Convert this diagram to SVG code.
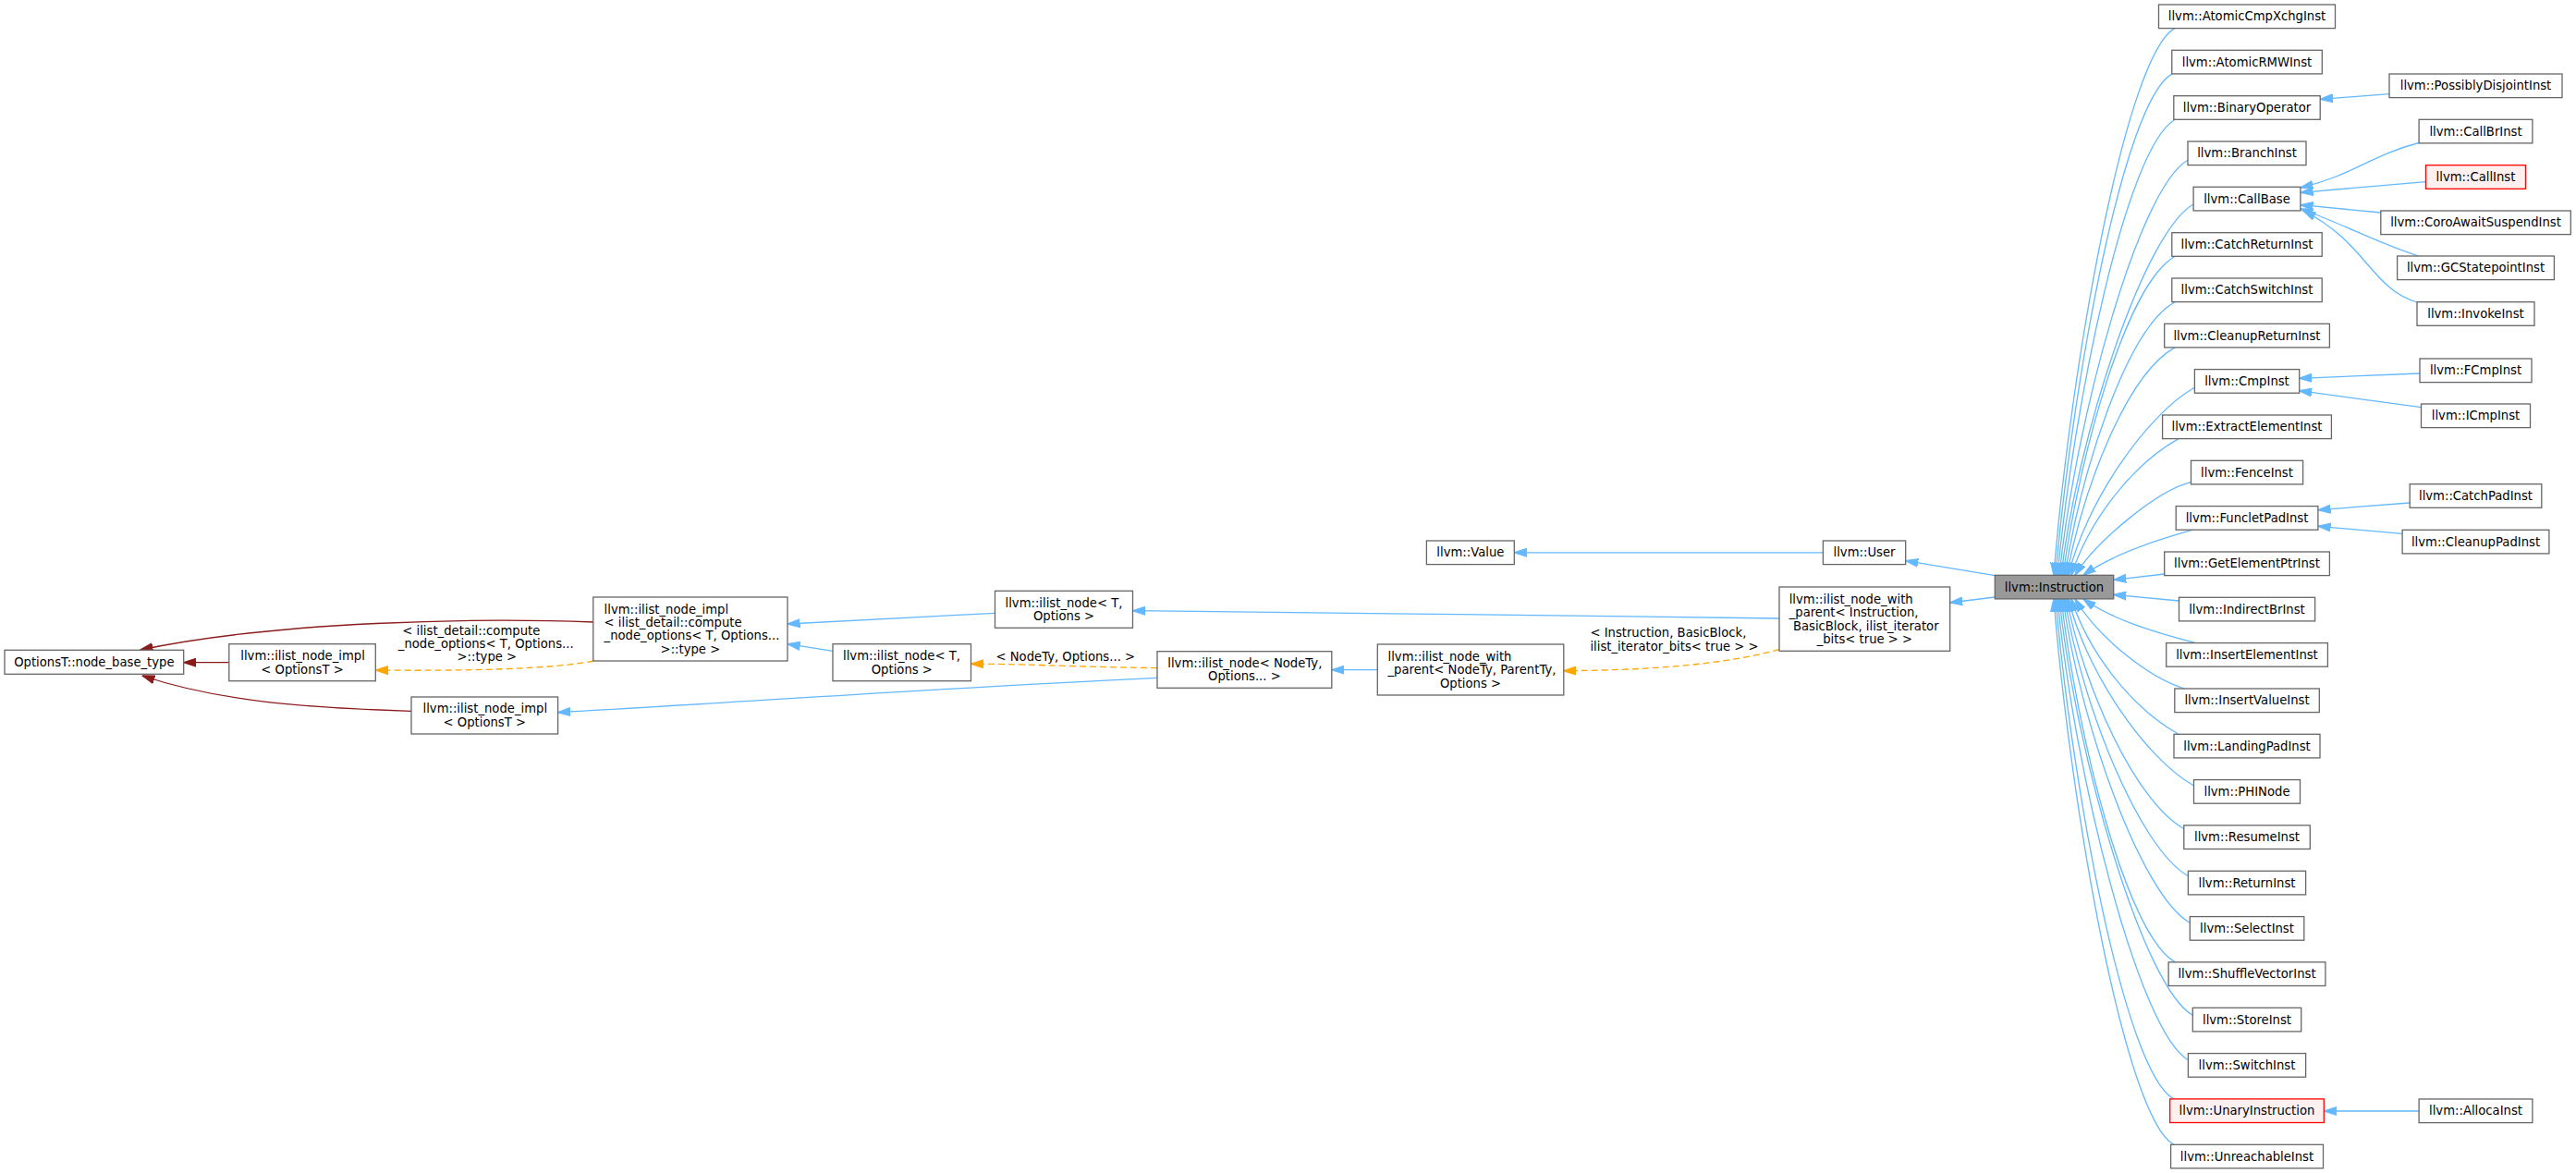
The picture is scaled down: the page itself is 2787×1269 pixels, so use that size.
<svg xmlns="http://www.w3.org/2000/svg" width="2787" height="1269" viewBox="0 0 2787 1269">
<style>
.nd rect{fill:#fff;stroke:#666;stroke-width:1.3}
.nd.hl rect{fill:#999}
.nd.red rect{fill:#fff0f0;stroke:#f00}
text{font-family:"DejaVu Sans","Liberation Sans",sans-serif;font-size:13.2px;fill:#000}
.m{text-anchor:middle}
.e{fill:none;stroke-width:1.3}
.b{stroke:#63b8ff;marker-end:url(#ab)}
.r{stroke:#8b1a1a;marker-end:url(#ar)}
.o{stroke:#ffa500;stroke-dasharray:7,4;marker-end:url(#ao)}
</style>
<defs>
<marker id="ab" markerUnits="userSpaceOnUse" viewBox="0 0 14 10" markerWidth="14" markerHeight="10" refX="13.5" refY="5" orient="auto"><path d="M0,0.5 L14,5 L0,9.5 Z" fill="#63b8ff" stroke="#63b8ff" stroke-width="1"/></marker>
<marker id="ar" markerUnits="userSpaceOnUse" viewBox="0 0 14 10" markerWidth="14" markerHeight="10" refX="13.5" refY="5" orient="auto"><path d="M0,0.5 L14,5 L0,9.5 Z" fill="#8b1a1a" stroke="#8b1a1a" stroke-width="1"/></marker>
<marker id="ao" markerUnits="userSpaceOnUse" viewBox="0 0 14 10" markerWidth="14" markerHeight="10" refX="13.5" refY="5" orient="auto"><path d="M0,0.5 L14,5 L0,9.5 Z" fill="#ffa500" stroke="#ffa500" stroke-width="1"/></marker>
</defs>
<rect width="2787" height="1269" fill="#fff"/>
<g id="edges">
<path class="e r" d="M642,673 C520,668 300,672 152,703"/>
<path class="e r" d="M247.8,716.7 L198.7,716.7"/>
<path class="e r" d="M445,769.3 C340,766 240,760 154,731"/>
<path class="e b" d="M1076.5,663.3 L852,675"/>
<path class="e b" d="M901,704.3 L852,696.7"/>
<path class="e b" d="M1252,733.3 C1000,745 800,760 603.6,770.7"/>
<path class="e o" d="M1252,722.7 C1150,721 1100,718 1050.5,718.3"/>
<path class="e o" d="M642,715 C600,724 500,726 406.3,725"/>
<path class="e b" d="M1925,669 C1700,667 1450,662 1225.5,660.7"/>
<path class="e b" d="M1490.3,724.7 L1440.8,724.7"/>
<path class="e o" d="M1925,702.7 C1860,720 1780,725 1691.8,725.7"/>
<path class="e b" d="M1972.4,597.8 L1638.3,597.8"/>
<path class="e b" d="M2158.3,622.7 L2061.7,606.7"/>
<path class="e b" d="M2158.3,646 L2109.7,652"/>
<path class="e b" d="M2352.7,30.6 C2299.7,60.6 2240,397.5 2222,622.3"/>
<path class="e b" d="M2350,79.9 C2297,109.9 2242,416.2 2224,622.3"/>
<path class="e b" d="M2353.3,129.3 C2300.3,159.3 2244,435 2226,622.3"/>
<path class="e b" d="M2367,173.3 C2314,203.3 2246,451.7 2228,622.3"/>
<path class="e b" d="M2373.1,221 C2320.1,251 2248,469.8 2230,622.3"/>
<path class="e b" d="M2353.3,277.3 C2300.3,307.3 2250,491.2 2232,622.3"/>
<path class="e b" d="M2353,326.6 C2300,356.6 2252,509.9 2234,622.3"/>
<path class="e b" d="M2353,375.9 C2300,405.9 2254,528.7 2236,622.3"/>
<path class="e b" d="M2374.3,419.3 C2321.3,449.3 2256,545.2 2238,622.3"/>
<path class="e b" d="M2357,474.6 C2304,504.6 2259,566.2 2241,622.3"/>
<path class="e b" d="M2370.5,521.7 C2335,530 2268,585 2245,622.3"/>
<path class="e b" d="M2372.6,573.2 C2330,585 2285,600 2254,622.3"/>
<path class="e b" d="M2341.7,621 L2286.7,627.3"/>
<path class="e b" d="M2357.5,650 L2286.7,643.3"/>
<path class="e b" d="M2375.5,695.6 C2330,684 2285,670 2254,648"/>
<path class="e b" d="M2363.3,745 C2325,733 2270,690 2245,648"/>
<path class="e b" d="M2357,794.3 C2304,764.3 2259,703.7 2241,648"/>
<path class="e b" d="M2373.5,850 C2320.5,820 2256,724.8 2238,648"/>
<path class="e b" d="M2362.8,896.7 C2309.8,866.7 2254,742.5 2236,648"/>
<path class="e b" d="M2367.4,947.7 C2314.4,917.7 2252,761.9 2234,648"/>
<path class="e b" d="M2369.3,998.3 C2316.3,968.3 2250,781.1 2232,648"/>
<path class="e b" d="M2353.3,1040.9 C2300.3,1010.9 2248,797.6 2230,648"/>
<path class="e b" d="M2372.3,1098.3 C2319.3,1068.3 2246,819.1 2228,648"/>
<path class="e b" d="M2367.4,1146.7 C2314.4,1116.7 2244,837.5 2226,648"/>
<path class="e b" d="M2351.7,1188.9 C2298.7,1158.9 2242,853.7 2224,648"/>
<path class="e b" d="M2351.7,1238.3 C2298.7,1208.3 2240,872.3 2222,648"/>
<path class="e b" d="M2585,101.7 L2510.4,107.3"/>
<path class="e b" d="M2617,154.5 C2565,168 2545,190 2489,203"/>
<path class="e b" d="M2624.5,196.7 L2489,208.3"/>
<path class="e b" d="M2575.8,230 L2489,221.7"/>
<path class="e b" d="M2616.7,277 C2570,262 2530,240 2489,226"/>
<path class="e b" d="M2615,327 C2565,312 2560,262 2492,228"/>
<path class="e b" d="M2618,404 L2487.6,409.3"/>
<path class="e b" d="M2619.5,440.7 L2487.6,422.7"/>
<path class="e b" d="M2607.2,544 L2508,551.7"/>
<path class="e b" d="M2599.1,577.3 L2508,569.3"/>
<path class="e b" d="M2617.1,1202 L2514.4,1202"/>
</g>
<g id="lbl-compute"><text x="435.3" y="686.5">&lt; ilist_detail::compute</text><text x="430.8" y="701">_node_options&lt; T, Options...</text><text class="m" x="526.8" y="715">&gt;::type &gt;</text></g>
<g id="lbl-nodety"><text class="m" x="1152.8" y="715">&lt; NodeTy, Options... &gt;</text></g>
<g id="lbl-instr"><text x="1720.4" y="689">&lt; Instruction, BasicBlock,</text><text x="1720.4" y="703.5">ilist_iterator_bits&lt; true &gt; &gt;</text></g>
<g id="OptionsT_node_base_type" class="nd"><rect x="5" y="703.3" width="193.7" height="26"/><text class="m" x="101.9" y="720.9">OptionsT::node_base_type</text></g>
<g id="ilist_node_impl_OptionsT_1" class="nd"><rect x="247.8" y="696.7" width="158.5" height="40"/><text x="260.3" y="714.1">llvm::ilist_node_impl</text><text class="m" x="327" y="728.5">&lt; OptionsT &gt;</text></g>
<g id="ilist_node_impl_OptionsT_2" class="nd"><rect x="445" y="754" width="158.6" height="40"/><text x="457.5" y="771.4">llvm::ilist_node_impl</text><text class="m" x="524.3" y="785.8">&lt; OptionsT &gt;</text></g>
<g id="ilist_node_impl_compute" class="nd"><rect x="641.8" y="646" width="210.2" height="69"/><text x="653.6" y="663.5">llvm::ilist_node_impl</text><text x="653.6" y="677.9">&lt; ilist_detail::compute</text><text x="653.6" y="692.3">_node_options&lt; T, Options...</text><text class="m" x="746.9" y="706.7">&gt;::type &gt;</text></g>
<g id="ilist_node_T_1" class="nd"><rect x="1076.5" y="639.3" width="149" height="40"/><text x="1087.5" y="656.7">llvm::ilist_node&lt; T,</text><text class="m" x="1151" y="671.1">Options &gt;</text></g>
<g id="ilist_node_T_2" class="nd"><rect x="901" y="696.7" width="149.5" height="40"/><text x="912" y="714.1">llvm::ilist_node&lt; T,</text><text class="m" x="975.8" y="728.5">Options &gt;</text></g>
<g id="ilist_node_NodeTy" class="nd"><rect x="1252" y="704.7" width="188.8" height="39.6"/><text x="1263.3" y="721.9">llvm::ilist_node&lt; NodeTy,</text><text class="m" x="1346.4" y="736.3">Options... &gt;</text></g>
<g id="ilist_node_with_parent_NodeTy" class="nd"><rect x="1490.3" y="697" width="201.5" height="55"/><text x="1501.5" y="714.7">llvm::ilist_node_with</text><text x="1501.5" y="729.1">_parent&lt; NodeTy, ParentTy,</text><text class="m" x="1591" y="743.5">Options &gt;</text></g>
<g id="Value" class="nd"><rect x="1543.4" y="585" width="94.9" height="25.6"/><text class="m" x="1590.9" y="602.4">llvm::Value</text></g>
<g id="User" class="nd"><rect x="1972.4" y="585" width="89.3" height="25.6"/><text class="m" x="2017" y="602.4">llvm::User</text></g>
<g id="ilist_node_with_parent_Instruction" class="nd"><rect x="1925" y="635" width="184.7" height="69.3"/><text x="1935.7" y="652.7">llvm::ilist_node_with</text><text x="1935.7" y="667.1">_parent&lt; Instruction,</text><text x="1939.9" y="681.5">BasicBlock, ilist_iterator</text><text class="m" x="2017.4" y="695.9">_bits&lt; true &gt; &gt;</text></g>
<g id="Instruction" class="nd hl"><rect x="2158.3" y="622.3" width="128.4" height="25.6"/><text class="m" x="2222.5" y="639.7">llvm::Instruction</text></g>
<g id="AtomicCmpXchgInst" class="nd"><rect x="2335.5" y="5" width="191" height="25.6"/><text class="m" x="2431" y="22.4">llvm::AtomicCmpXchgInst</text></g>
<g id="AtomicRMWInst" class="nd"><rect x="2349.8" y="54.3" width="162.5" height="25.6"/><text class="m" x="2431" y="71.7">llvm::AtomicRMWInst</text></g>
<g id="BinaryOperator" class="nd"><rect x="2351.8" y="103.7" width="158.4" height="25.6"/><text class="m" x="2431" y="121.1">llvm::BinaryOperator</text></g>
<g id="BranchInst" class="nd"><rect x="2367" y="153" width="128" height="25.6"/><text class="m" x="2431" y="170.4">llvm::BranchInst</text></g>
<g id="CallBase" class="nd"><rect x="2373.1" y="202.3" width="115.8" height="25.6"/><text class="m" x="2431" y="219.7">llvm::CallBase</text></g>
<g id="CatchReturnInst" class="nd"><rect x="2349.8" y="251.7" width="162.4" height="25.6"/><text class="m" x="2431" y="269.1">llvm::CatchReturnInst</text></g>
<g id="CatchSwitchInst" class="nd"><rect x="2349.8" y="301" width="162.4" height="25.6"/><text class="m" x="2431" y="318.4">llvm::CatchSwitchInst</text></g>
<g id="CleanupReturnInst" class="nd"><rect x="2341.7" y="350.3" width="178.7" height="25.6"/><text class="m" x="2431" y="367.7">llvm::CleanupReturnInst</text></g>
<g id="CmpInst" class="nd"><rect x="2374.4" y="399.6" width="113.3" height="25.6"/><text class="m" x="2431" y="417">llvm::CmpInst</text></g>
<g id="ExtractElementInst" class="nd"><rect x="2339.6" y="449" width="182.8" height="25.6"/><text class="m" x="2431" y="466.4">llvm::ExtractElementInst</text></g>
<g id="FenceInst" class="nd"><rect x="2370.5" y="498.3" width="121.1" height="25.6"/><text class="m" x="2431" y="515.7">llvm::FenceInst</text></g>
<g id="FuncletPadInst" class="nd"><rect x="2354.2" y="547.6" width="153.7" height="25.6"/><text class="m" x="2431" y="565">llvm::FuncletPadInst</text></g>
<g id="GetElementPtrInst" class="nd"><rect x="2341.7" y="597" width="178.7" height="25.6"/><text class="m" x="2431" y="614.4">llvm::GetElementPtrInst</text></g>
<g id="IndirectBrInst" class="nd"><rect x="2357.5" y="646.3" width="147.1" height="25.6"/><text class="m" x="2431" y="663.7">llvm::IndirectBrInst</text></g>
<g id="InsertElementInst" class="nd"><rect x="2343.7" y="695.6" width="174.7" height="25.6"/><text class="m" x="2431" y="713">llvm::InsertElementInst</text></g>
<g id="InsertValueInst" class="nd"><rect x="2352.8" y="745" width="156.5" height="25.6"/><text class="m" x="2431" y="762.4">llvm::InsertValueInst</text></g>
<g id="LandingPadInst" class="nd"><rect x="2352" y="794.3" width="158" height="25.6"/><text class="m" x="2431" y="811.7">llvm::LandingPadInst</text></g>
<g id="PHINode" class="nd"><rect x="2373.5" y="843.6" width="115" height="25.6"/><text class="m" x="2431" y="861">llvm::PHINode</text></g>
<g id="ResumeInst" class="nd"><rect x="2362.8" y="892.9" width="136.5" height="25.6"/><text class="m" x="2431" y="910.3">llvm::ResumeInst</text></g>
<g id="ReturnInst" class="nd"><rect x="2367.4" y="942.3" width="127.2" height="25.6"/><text class="m" x="2431" y="959.7">llvm::ReturnInst</text></g>
<g id="SelectInst" class="nd"><rect x="2369.3" y="991.6" width="123.5" height="25.6"/><text class="m" x="2431" y="1009">llvm::SelectInst</text></g>
<g id="ShuffleVectorInst" class="nd"><rect x="2346.1" y="1040.9" width="169.8" height="25.6"/><text class="m" x="2431" y="1058.3">llvm::ShuffleVectorInst</text></g>
<g id="StoreInst" class="nd"><rect x="2372.3" y="1090.3" width="117.4" height="25.6"/><text class="m" x="2431" y="1107.7">llvm::StoreInst</text></g>
<g id="SwitchInst" class="nd"><rect x="2367.4" y="1139.6" width="127.2" height="25.6"/><text class="m" x="2431" y="1157">llvm::SwitchInst</text></g>
<g id="UnaryInstruction" class="nd red"><rect x="2347.7" y="1188.9" width="166.6" height="25.6"/><text class="m" x="2431" y="1206.3">llvm::UnaryInstruction</text></g>
<g id="UnreachableInst" class="nd"><rect x="2348.6" y="1238.3" width="164.9" height="25.6"/><text class="m" x="2431" y="1255.7">llvm::UnreachableInst</text></g>
<g id="PossiblyDisjointInst" class="nd"><rect x="2585" y="80" width="187" height="25.6"/><text class="m" x="2678.5" y="97.4">llvm::PossiblyDisjointInst</text></g>
<g id="CallBrInst" class="nd"><rect x="2617.1" y="129.3" width="122.8" height="25.6"/><text class="m" x="2678.5" y="146.7">llvm::CallBrInst</text></g>
<g id="CallInst" class="nd red"><rect x="2624.5" y="178.7" width="108" height="25.6"/><text class="m" x="2678.5" y="196.1">llvm::CallInst</text></g>
<g id="CoroAwaitSuspendInst" class="nd"><rect x="2575.8" y="228" width="205.5" height="25.6"/><text class="m" x="2678.5" y="245.4">llvm::CoroAwaitSuspendInst</text></g>
<g id="GCStatepointInst" class="nd"><rect x="2593.6" y="277" width="169.8" height="25.6"/><text class="m" x="2678.5" y="294.4">llvm::GCStatepointInst</text></g>
<g id="InvokeInst" class="nd"><rect x="2615" y="326.7" width="127" height="25.6"/><text class="m" x="2678.5" y="344.1">llvm::InvokeInst</text></g>
<g id="FCmpInst" class="nd"><rect x="2618" y="388" width="121" height="25.6"/><text class="m" x="2678.5" y="405.4">llvm::FCmpInst</text></g>
<g id="ICmpInst" class="nd"><rect x="2619.5" y="437" width="118" height="25.6"/><text class="m" x="2678.5" y="454.4">llvm::ICmpInst</text></g>
<g id="CatchPadInst" class="nd"><rect x="2607.2" y="523.7" width="142.6" height="25.6"/><text class="m" x="2678.5" y="541.1">llvm::CatchPadInst</text></g>
<g id="CleanupPadInst" class="nd"><rect x="2599.1" y="573.3" width="158.8" height="25.6"/><text class="m" x="2678.5" y="590.7">llvm::CleanupPadInst</text></g>
<g id="AllocaInst" class="nd"><rect x="2617.1" y="1189" width="122.8" height="25.6"/><text class="m" x="2678.5" y="1206.4">llvm::AllocaInst</text></g>
</svg>
